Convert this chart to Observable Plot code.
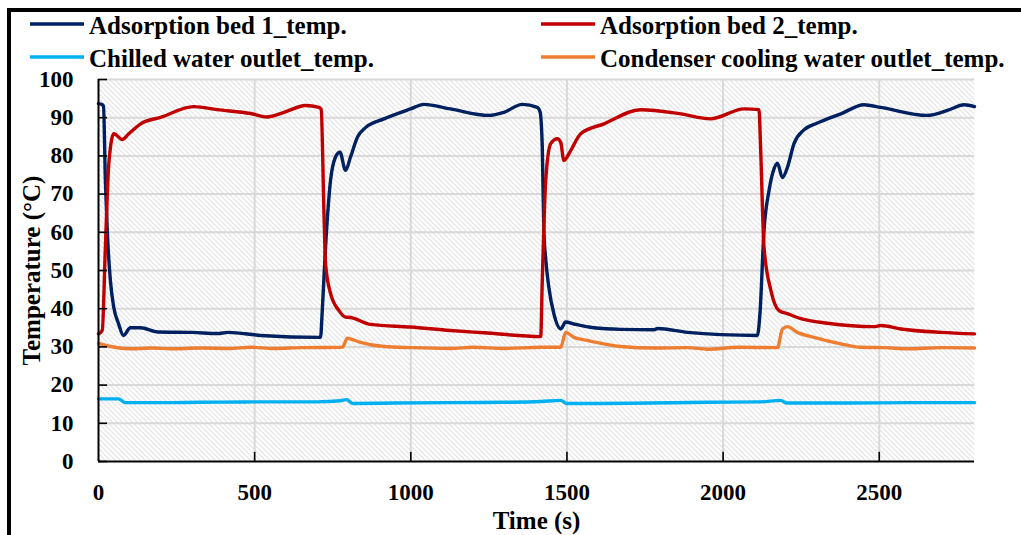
<!DOCTYPE html>
<html>
<head>
<meta charset="utf-8">
<script src="https://cdn.jsdelivr.net/npm/d3@7"></script>
<script src="https://cdn.jsdelivr.net/npm/@observablehq/plot@0.6"></script>
<style>
  body { margin: 0; background: #fff; overflow: hidden; }
  #wrap { position: relative; width: 1021px; height: 535px; overflow: hidden; font-family: "Liberation Serif", serif; }
  #border { position: absolute; left: 7px; top: 8px; width: 1100px; height: 700px; border: 4px solid #000; pointer-events: none; }
  #legend { position: absolute; left: 0; top: 0; z-index: 2; }
  #legend svg { overflow: visible; }
  #chart { position: absolute; left: 0; top: 70px; z-index: 1; }
</style>
</head>
<body>
<div id="wrap">
  <div id="legend"></div>
  <div id="chart"></div>
  <div id="border"></div>
</div>
<script>
// ---- data (time s, temperature °C) ----
const seriesNames = [
  "Adsorption bed 1_temp.",
  "Adsorption bed 2_temp.",
  "Chilled water outlet_temp.",
  "Condenser cooling water outlet_temp."
];
const seriesColors = ["#002060", "#C00000", "#00B0F0", "#ED7D31"];

const bed1 = [[0,93.7],[10,93.5],[16,93.0],[22,73.6],[28,60.5],[38,47.4],[49,40.3],[64,36.1],[80,33.0],[102,35.0],[135,35.0],[190,33.9],[300,33.8],[380,33.5],[415,33.8],[520,33.0],[711,32.5],[716,38.7],[727,56.1],[743,73.6],[759,79.7],[773,81.0],[791,76.2],[807,79.7],[829,84.9],[855,87.4],[914,89.7],[999,92.3],[1042,93.5],[1127,92.3],[1250,90.6],[1298,91.4],[1357,93.5],[1405,92.7],[1414,91.5],[1421,82.3],[1426,60.5],[1432,53.0],[1442,45.6],[1458,38.7],[1480,34.7],[1496,36.5],[1522,36.0],[1586,35.0],[1672,34.6],[1779,34.5],[1790,34.8],[1886,33.8],[1992,33.2],[2110,33.0],[2118,38.7],[2131,60.5],[2147,70.9],[2163,76.6],[2174,78.1],[2190,74.3],[2206,77.0],[2227,83.2],[2259,86.8],[2302,88.6],[2377,91.0],[2451,93.4],[2505,92.7],[2654,90.6],[2718,91.9],[2772,93.4],[2805,92.9]];

const bed2 = [[0,33.4],[12,34.3],[22,56.1],[33,77.9],[49,85.8],[76,84.3],[97,85.8],[135,88.4],[199,90.1],[305,92.9],[380,92.1],[487,91.1],[540,90.2],[594,91.4],[663,93.2],[706,92.7],[713,92.2],[722,64.9],[727,51.8],[743,44.0],[770,39.5],[791,37.8],[807,37.7],[871,35.9],[999,35.2],[1127,34.3],[1234,33.7],[1416,32.7],[1421,47.4],[1432,73.6],[1448,83.2],[1469,84.5],[1480,83.6],[1490,78.8],[1512,81.4],[1544,85.8],[1619,88.4],[1736,92.1],[1864,91.0],[1960,89.7],[2067,92.3],[2115,92.1],[2120,82.3],[2131,56.1],[2153,44.8],[2179,39.5],[2206,38.7],[2249,37.4],[2334,36.2],[2483,35.3],[2505,35.6],[2569,34.7],[2697,33.8],[2805,33.4]];

const chilled = [[0,16.4],[64,16.4],[86,15.4],[200,15.4],[327,15.5],[500,15.6],[700,15.6],[775,15.9],[794,16.2],[814,15.2],[950,15.3],[1127,15.4],[1300,15.5],[1416,15.7],[1480,16.0],[1499,15.2],[1600,15.2],[1768,15.3],[1950,15.5],[2120,15.6],[2184,16.0],[2204,15.3],[2400,15.3],[2600,15.4],[2805,15.4]];

const condenser = [[0,30.9],[38,30.1],[102,29.5],[170,29.7],[230,29.5],[327,29.7],[420,29.6],[487,29.9],[560,29.6],[650,29.8],[781,29.9],[797,32.3],[810,32.0],[839,31.2],[914,30.1],[1000,29.8],[1127,29.6],[1200,29.9],[1300,29.6],[1416,29.9],[1480,29.9],[1496,33.8],[1522,32.5],[1565,31.7],[1672,30.1],[1780,29.7],[1886,29.8],[1950,29.4],[2050,29.9],[2174,29.8],[2190,34.7],[2206,35.3],[2238,33.8],[2291,32.5],[2377,30.8],[2441,29.9],[2520,29.8],[2590,29.5],[2700,29.8],[2805,29.7]];

const xTicks = [0, 500, 1000, 1500, 2000, 2500];
const yTicks = [0, 10, 20, 30, 40, 50, 60, 70, 80, 90, 100];
const xLabel = "Time (s)";
const yLabel = "Temperature (°C)";

// ---- build table ----
const allSeries = [bed1, bed2, chilled, condenser];
const rows = allSeries.flatMap((arr, i) => arr.map(([t, v]) => ({t, v, s: seriesNames[i]})));

const font = '"Liberation Serif", serif';

const chart = Plot.plot({
  width: 1021,
  height: 465,
  marginTop: 9,
  marginBottom: 74,
  marginLeft: 98,
  marginRight: 47,
  style: {fontFamily: font, fontWeight: "bold", fontSize: "23px", color: "#000", background: "transparent", overflow: "visible"},
  x: {domain: [0, 2805]},
  y: {domain: [0, 100]},
  color: {domain: seriesNames, range: seriesColors},
  marks: [
    Plot.frame({fill: "url(#hatch)", stroke: null}),
    Plot.ruleY(yTicks.filter(d => d > 0), {stroke: "#D9D9D9", strokeWidth: 2}),
    Plot.ruleX(xTicks.filter(d => d > 0), {stroke: "#D9D9D9", strokeWidth: 2}),
    Plot.line(rows, {x: "t", y: "v", z: "s", stroke: "s", strokeWidth: 3.4, curve: "monotone-x"}),
    Plot.ruleX([0], {stroke: "#000", strokeWidth: 2}),
    Plot.ruleY([0], {stroke: "#000", strokeWidth: 2}),
    Plot.ruleY(yTicks, {x1: 0, x2: 29, stroke: "#000", strokeWidth: 1.6}),
    Plot.ruleX(xTicks.filter(d => d > 0), {y1: 0, y2: 2.4, stroke: "#000", strokeWidth: 1.6}),
    Plot.axisX(xTicks, {tickSize: 0, tickPadding: 22, tickFormat: d => String(d), label: null}),
    Plot.axisY(yTicks, {tickSize: 0, tickPadding: 25, tickFormat: d => String(d), label: null}),
    Plot.text([xLabel], {frameAnchor: "bottom", dy: 59, lineAnchor: "middle", textAnchor: "middle", text: d => d, fontSize: 25, fontWeight: "bold", fill: "#000"}),
    Plot.text([yLabel], {frameAnchor: "left", dx: -67, rotate: -90, lineAnchor: "middle", textAnchor: "middle", text: d => d, fontSize: 25, fontWeight: "bold", fill: "#000"})
  ]
});

// hatch pattern background
const defs = d3.select(chart).insert("defs", ":first-child");
const pat = defs.append("pattern").attr("id", "hatch").attr("patternUnits", "userSpaceOnUse")
  .attr("width", 5).attr("height", 5);
pat.append("rect").attr("width", 5).attr("height", 5).attr("fill", "#fff");
pat.append("path").attr("d", "M-1,-1L6,6M-1,4L1,6M4,-1L6,1").attr("stroke", "#CBCBCB").attr("stroke-width", 0.9);

document.getElementById("chart").appendChild(chart);

// ---- legend (above the chart) ----
const lg = d3.select("#legend").append("svg").attr("width", 1021).attr("height", 70);
const colX = [30, 541], rowY = [24, 57];
seriesNames.forEach((name, i) => {
  const cx = colX[i % 2], cy = rowY[Math.floor(i / 2)];
  const g = lg.append("g").attr("transform", `translate(${cx},${cy})`);
  g.append("line").attr("x1", 0).attr("x2", 54).attr("stroke", seriesColors[i]).attr("stroke-width", 3.5);
  g.append("text").attr("x", 59).attr("y", 9.5).text(name)
    .attr("font-family", font).attr("font-weight", "bold").attr("font-size", 25).attr("fill", "#000");
});
</script>
</body>
</html>
